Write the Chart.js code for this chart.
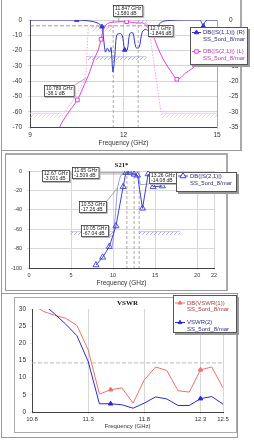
<!DOCTYPE html>
<html><head><meta charset="utf-8">
<script src="https://cdn.jsdelivr.net/npm/chart.js@4/dist/chart.umd.min.js"></script>
<style>
html,body{margin:0;padding:0;background:#fff;width:254px;height:442px;overflow:hidden;position:relative}
.fr{position:absolute;box-sizing:border-box}
canvas{position:absolute;left:0}
</style></head><body>
<div class="fr" style="left:1px;top:-2px;width:241px;height:153px;border:1px solid #999;border-right:2px solid #aaa"></div>
<div class="fr" style="left:1px;top:150px;width:1px;height:143px;border-left:1px solid #999"></div>
<div class="fr" style="left:5px;top:153px;width:223px;height:138px;border:1px solid #999;border-top:2px solid #aaa;border-right:2px solid #aaa"></div>
<div class="fr" style="left:1px;top:293px;width:237px;height:145px;border:1px solid #999"></div>
<div class="fr" style="left:14px;top:297px;width:223px;height:136px;border:1px solid #aaa"></div>
<canvas id="c1" width="254" height="150" style="top:0"></canvas>
<canvas id="c2" width="254" height="137" style="top:153px"></canvas>
<canvas id="c3" width="254" height="140" style="top:293px"></canvas>
<script>
// ---------- Panel 1 data ----------
const p1XTicks = [9, 12, 15];
const s11Freq = [9.0, 9.5, 10.0, 10.5, 10.9, 11.15, 11.31, 11.36, 11.42, 11.48, 11.55, 11.6, 11.66, 11.72, 11.78, 11.88, 11.96, 12.04, 12.12, 12.2, 12.3, 12.4, 12.5, 12.6, 12.72, 12.82, 12.9, 13.05, 13.2, 13.4, 14.0, 14.45, 14.52, 14.56, 14.62, 14.7, 15.0];
const s11Db   = [0, 0, 0, 0, -0.3, -0.9, -2.2, -6, -10.5, -9.2, -10.5, -9, -17, -12, -5, -4.4, -5, -9.8, -9.8, -4.5, -4.2, -9, -9, -4, -3, -4, -5, -3, -0.8, -0.2, 0, 0, -1.2, -2, -0.5, 0, 0];
const s11MarkFreq = [10.5, 11.31, 12.04, 12.9, 14.56];
const s21Freq = [9.85, 10.0, 10.25, 10.52, 10.75, 10.92, 11.05, 11.19, 11.28, 11.35, 11.46, 11.6, 11.8, 12.1, 12.3, 12.45, 12.63, 12.8, 12.96, 13.12, 13.28, 13.45, 13.6, 13.71, 13.85, 13.97, 14.19, 14.4, 14.7, 15.0];
const s21Db   = [-75, -68, -60, -52.3, -42, -33.8, -26, -19.6, -12.6, -6.5, -2.6, -1.6, -1.2, -1.1, -1.6, -2, -2, -5.5, -10.9, -19, -26, -31.5, -36, -38.8, -37.5, -35, -32, -28, -23.5, -20];
const s21MarkFreq = [10.52, 11.28, 12.1, 13.71];
const s21SpecLoFreq = [10.02, 10.4, 10.789, 10.83, 10.87];
const s21SpecLoDb   = [-63, -52, -38.1, -20, -4.5];
const s21SpecHiFreq = [12.8, 13.22];
const s21SpecHiDb   = [-3, -63];
const s21StopFreq = [[9, 10.02], [13.22, 15]];
const s21StopDb = [-61, -64];
const s21PassFreq = [[10.98, 11.67], [12.37, 12.75]];
const s21PassDb = [[-4.4, -7.6], [0, -2.6]];
const s11MaskFreq = [10.82, 12.74];
const s11MaskDb = [-12, -13.1];
const p1RefFreq = [9, 12.9];
const p1RefDb = -3.8;
const p1VFreq = [11.67, 12.47];
const p1MarkerFreq = [11.847, 12.7, 10.789];
const p1MarkerDb = [-1.58, -1.846, -38.1];
const p1MarkerText = [['11.847 GHz', '-1.580 dB'], ['12.7 GHz', '-1.846 dB'], ['10.789 GHz', '-38.1 dB']];

// ---------- Panel 2 data ----------
const p2XTicks = [0, 5, 10, 15, 20, 22];
const p2Freq = [7.97, 8.76, 9.55, 10.34, 11.2, 11.52, 12.0, 12.5, 12.9, 13.5, 14.17, 14.76, 15.86];
const p2Db   = [-96.9, -89, -78, -56.7, -16.2, -1.7, -1.7, -3.4, -4.4, -38.5, -3.1, -16.2, -15.5];
const p2bFreq = [9.9, 10.05, 10.3, 10.53, 10.9, 11.3, 11.65, 12.2, 12.67, 13.0, 13.26];
const p2bDb   = [-78, -67.04, -42, -17.26, -5, -2, -1.509, -2.2, -3.001, -6, -14.08];
const p2StopFreq = [[4.9, 10.14], [13.1, 18.0]];
const p2StopDb = [-62.5, -66];
const p2VFreq = [11.64, 12.5, 13.1];
const p2MarkerFreq = [12.67, 11.65, 13.26, 10.53, 10.05];
const p2MarkerDb = [-3.001, -1.509, -14.08, -17.26, -67.04];
const p2MarkerText = [['12.67 GHz', '-3.001 dB'], ['11.65 GHz', '-1.509 dB'], ['13.26 GHz', '-14.08 dB'], ['10.53 GHz', '-17.26 dB'], ['10.05 GHz', '-67.04 dB']];

// ---------- Panel 3 data ----------
const p3XTicks = [10.8, 11.3, 11.8, 12.3, 12.5];
const vswrFreq = [10.8, 10.9, 11.0, 11.1, 11.2, 11.3, 11.4, 11.5, 11.6, 11.7, 11.8, 11.9, 12.0, 12.1, 12.2, 12.3, 12.4, 12.5];
const vswr1 = [31.5, 29.3, 28.2, 27.3, 25.2, 18.1, 5.2, 6.5, 7.0, 2.6, 9.4, 13.1, 12.1, 6.2, 5.8, 12.3, 13.1, 7.0];
const vswr2 = [35, 31.5, 28.6, 25.6, 22.2, 14.7, 2.4, 2.4, 2.1, 1.1, 2.6, 4.4, 3.8, 1.9, 1.9, 3.9, 4.5, 2.3];
const vswrMarkFreq = [11.5, 12.3];
const vswrRef = 14.3;

// ---------- helpers ----------
Chart.defaults.font.family = '"Liberation Sans", Arial, sans-serif';
const pts = (xs, ys) => xs.map((x, i) => ({x, y: ys[i]}));
function hatch(color) {
  const c = document.createElement('canvas'); c.width = 4; c.height = 4;
  const g = c.getContext('2d'); g.strokeStyle = color; g.lineWidth = 0.7;
  g.beginPath(); g.moveTo(0, 4); g.lineTo(4, 0); g.moveTo(-1, 1); g.lineTo(1, -1); g.moveTo(3, 5); g.lineTo(5, 3); g.stroke();
  return g.createPattern(c, 'repeat');
}
function band(f, top, bottom, color, axis) {
  return {data: [{x: f[0], y: top}, {x: f[1], y: top}], yAxisID: axis, borderColor: color, borderWidth: 0.5,
    pointRadius: 0, fill: {value: bottom}, backgroundColor: hatch(color), tension: 0, order: 10};
}
function vline(f, a, b, axis) {
  return {data: [{x: f, y: a}, {x: f, y: b}], yAxisID: axis, borderColor: '#888', borderWidth: 0.7, borderDash: [3, 2], pointRadius: 0, fill: false, order: 9};
}
const markAt = list => ctx => (ctx.raw && list.some(f => Math.abs(f - ctx.raw.x) < 1e-6)) ? 2.6 : 0;
const fixedTicks = list => axis => { axis.ticks = list.map(v => ({value: v})); };

function drawMarkers(chart, m) {
  const ctx = chart.ctx, xs = chart.scales.x, ys = chart.scales[m.axis];
  ctx.font = '5px "Liberation Sans", Arial';
  m.freq.forEach((f, i) => {
    const px = xs.getPixelForValue(f), py = ys.getPixelForValue(m.db[i]);
    const lines = m.text[i], b = m.box[i];
    const w = Math.max(...lines.map(t => ctx.measureText(t).width)) + 4, h = lines.length * 5 + 2;
    const bx = Math.round(b.x - w / 2), by = Math.round(b.y - h / 2);
    const ex = Math.max(bx, Math.min(px, bx + w)), ey = Math.max(by, Math.min(py, by + h));
    ctx.strokeStyle = '#777'; ctx.lineWidth = 0.6; ctx.setLineDash([]);
    ctx.beginPath(); ctx.moveTo(ex, ey); ctx.lineTo(px, py); ctx.stroke();
    ctx.fillStyle = '#bbb'; ctx.fillRect(bx + 1, by + 1, w, h);
    ctx.fillStyle = '#fff'; ctx.fillRect(bx, by, w, h);
    ctx.strokeStyle = '#333'; ctx.lineWidth = 0.8; ctx.strokeRect(bx + 0.5, by + 0.5, w - 1, h - 1);
    ctx.fillStyle = '#222'; ctx.textAlign = 'left'; ctx.textBaseline = 'middle';
    lines.forEach((t, j) => ctx.fillText(t, bx + 2, by + 3.5 + j * 5));
  });
}
function drawLegend(chart, L) {
  const ctx = chart.ctx;
  ctx.fillStyle = '#999'; ctx.fillRect(L.x + 2, L.y + 2, L.w, L.h);
  ctx.fillStyle = '#fff'; ctx.fillRect(L.x, L.y, L.w, L.h);
  ctx.strokeStyle = '#555'; ctx.lineWidth = 1; ctx.setLineDash([]);
  ctx.strokeRect(L.x + 0.5, L.y + 0.5, L.w - 1, L.h - 1);
  L.items.forEach(it => {
    const ds = chart.data.datasets[it.ds];
    ctx.strokeStyle = ds.borderColor; ctx.lineWidth = 1;
    ctx.beginPath(); ctx.moveTo(L.sx0, it.y); ctx.lineTo(L.sx1, it.y); ctx.stroke();
    ctx.fillStyle = it.hollow ? '#fff' : ds.borderColor;
    Chart.helpers.drawPoint(ctx, {pointStyle: ds.pointStyle, radius: it.r, rotation: 0, borderWidth: 1}, (L.sx0 + L.sx1) / 2, it.y);
    ctx.fillStyle = it.color; ctx.font = L.font; ctx.textAlign = 'left'; ctx.textBaseline = 'middle';
    it.text.forEach((t, j) => ctx.fillText(t, L.tx, it.y + j * L.lh));
  });
}
const overlay = {
  id: 'overlay',
  afterDraw(chart, args, o) {
    const ctx = chart.ctx; ctx.save();
    if (o.title) {
      const ca = chart.chartArea;
      ctx.font = o.title.font; ctx.fillStyle = '#111'; ctx.textAlign = 'center'; ctx.textBaseline = 'middle';
      ctx.fillText(o.title.text, (ca.left + ca.right) / 2, o.title.y);
    }
    (o.markers || []).forEach(m => drawMarkers(chart, m));
    if (o.legend) drawLegend(chart, o.legend);
    ctx.restore();
  }
};
const tickFont = s => ({size: s});

// ---------- Chart 1 ----------
const C_S11 = '#3535c8', C_S21 = '#e040e0', C_S21S = '#f0a0f0';
new Chart(document.getElementById('c1'), {
  type: 'line',
  plugins: [overlay],
  data: {datasets: [
    {data: pts(s11Freq, s11Db), yAxisID: 'yR', borderColor: C_S11, backgroundColor: C_S11, borderWidth: 1, tension: 0.3,
      pointStyle: 'triangle', pointRadius: markAt(s11MarkFreq), order: 1},
    {data: pts(s21Freq, s21Db), yAxisID: 'yL', borderColor: C_S21, backgroundColor: '#fff', borderWidth: 1, tension: 0.3,
      pointStyle: 'rect', pointRadius: markAt(s21MarkFreq), pointBorderWidth: 1, order: 2},
    {data: pts(s21SpecLoFreq, s21SpecLoDb), yAxisID: 'yL', borderColor: C_S21S, borderWidth: 1, borderDash: [1.5, 1.5], pointRadius: 0, order: 5},
    {data: pts(s21SpecHiFreq, s21SpecHiDb), yAxisID: 'yL', borderColor: C_S21S, borderWidth: 1, borderDash: [1.5, 1.5], pointRadius: 0, order: 5},
    band(s21StopFreq[0], s21StopDb[0], s21StopDb[1], C_S21S, 'yL'),
    band(s21StopFreq[1], s21StopDb[0], s21StopDb[1], C_S21S, 'yL'),
    band(s21PassFreq[0], s21PassDb[0][0], s21PassDb[0][1], C_S21S, 'yL'),
    band(s21PassFreq[1], s21PassDb[1][0], s21PassDb[1][1], C_S21S, 'yL'),
    band(s11MaskFreq, s11MaskDb[0], s11MaskDb[1], '#9090e0', 'yR'),
    {data: [{x: p1RefFreq[0], y: p1RefDb}, {x: p1RefFreq[1], y: p1RefDb}], yAxisID: 'yL', borderColor: '#888', borderWidth: 0.8, borderDash: [4, 2], pointRadius: 0, order: 9},
    vline(p1VFreq[0], 0, -70, 'yL'),
    vline(p1VFreq[1], 0, -70, 'yL')
  ]},
  options: {
    responsive: false, animation: false, devicePixelRatio: 1,
    layout: {padding: {top: 20, left: 0, right: 0, bottom: 0}},
    plugins: {legend: {display: false}, tooltip: {enabled: false},
      overlay: {
        markers: [{axis: 'yL', freq: p1MarkerFreq, db: p1MarkerDb, text: p1MarkerText, box: [{x: 128, y: 11}, {x: 161, y: 31}, {x: 59.5, y: 91}]}],
        legend: {x: 190, y: 27, w: 58, h: 38, sx0: 192, sx1: 201, tx: 203, lh: 7, font: '6px "Liberation Sans", Arial',
          items: [{ds: 0, y: 32.5, r: 2.5, color: '#30307a', text: ['DB(|S(1,1)|) (R)', 'SS_5ord_8/mar']},
                  {ds: 1, y: 51.5, r: 2.5, hollow: true, color: '#b040b0', text: ['DB(|S(2,1)|) (L)', 'SS_5ord_8/mar']}]}
      }},
    scales: {
      x: {type: 'linear', min: 9, max: 15, afterBuildTicks: fixedTicks(p1XTicks), afterFit: s => { s.height = 23; },
        grid: {color: '#d4d4d4', tickLength: 2}, border: {color: '#444'},
        ticks: {font: tickFont(6.5), color: '#333', padding: 2},
        title: {display: true, text: 'Frequency (GHz)', font: tickFont(6.5), color: '#333', padding: {top: 0, bottom: 3}}},
      yL: {position: 'left', min: -70, max: 0, afterFit: s => { s.width = 30; },
        grid: {color: '#d4d4d4', tickLength: 2}, border: {color: '#444'},
        ticks: {stepSize: 10, font: tickFont(6.5), color: '#333', padding: 6}},
      yR: {position: 'right', min: -35, max: 0, afterFit: s => { s.width = 37; },
        grid: {display: false}, border: {color: '#aaa'},
        ticks: {stepSize: 5, font: tickFont(6.5), color: '#333', padding: 4}}
    }
  }
});

// ---------- Chart 2 ----------
const C_P2 = '#4040d0';
new Chart(document.getElementById('c2'), {
  type: 'line',
  plugins: [overlay],
  data: {datasets: [
    {data: pts(p2Freq, p2Db), yAxisID: 'y', borderColor: C_P2, backgroundColor: 'rgba(255,255,255,0)', borderWidth: 1, tension: 0,
      pointStyle: 'triangle', pointRadius: 3.5, pointBorderWidth: 0.9, order: 1},
    {data: pts(p2bFreq, p2bDb), yAxisID: 'y', borderColor: '#7070e0', borderWidth: 0.7, tension: 0.2, pointRadius: 0, order: 2},
    band(p2StopFreq[0], p2StopDb[0], p2StopDb[1], '#9090e0', 'y'),
    band(p2StopFreq[1], p2StopDb[0], p2StopDb[1], '#9090e0', 'y'),
    vline(p2VFreq[0], 0, -100, 'y'),
    vline(p2VFreq[1], 0, -100, 'y'),
    vline(p2VFreq[2], 0, -100, 'y')
  ]},
  options: {
    responsive: false, animation: false, devicePixelRatio: 1,
    layout: {padding: {top: 18, left: 0, right: 40, bottom: 0}},
    plugins: {legend: {display: false}, tooltip: {enabled: false},
      overlay: {
        title: {text: 'S21*', font: 'bold 6.5px "Liberation Serif", serif', y: 12},
        markers: [{axis: 'y', freq: p2MarkerFreq, db: p2MarkerDb, text: p2MarkerText,
          box: [{x: 56, y: 22.5}, {x: 86, y: 20}, {x: 163, y: 25}, {x: 93, y: 54}, {x: 94.5, y: 77.7}]}],
        legend: {x: 176, y: 19, w: 61, h: 20, sx0: 178, sx1: 188, tx: 190, lh: 7.5, font: '6px "Liberation Sans", Arial',
          items: [{ds: 0, y: 23, r: 3.5, hollow: true, color: '#30307a', text: ['DB(|S(2,1)|)', 'SS_5ord_8/mar']}]}
      }},
    scales: {
      x: {type: 'linear', min: 0, max: 22, afterBuildTicks: fixedTicks(p2XTicks), afterFit: s => { s.height = 22; },
        grid: {color: '#d8d8d8', tickLength: 2}, border: {color: '#444'},
        ticks: {font: tickFont(5.5), color: '#333', padding: 2},
        title: {display: true, text: 'Frequency (GHz)', font: tickFont(6.5), color: '#333', padding: {top: 0, bottom: 3}}},
      y: {position: 'left', min: -100, max: 0, afterFit: s => { s.width = 29; },
        grid: {color: '#d8d8d8', tickLength: 2}, border: {color: '#444'},
        ticks: {stepSize: 20, font: tickFont(5.5), color: '#333', padding: 5}}
    }
  }
});

// ---------- Chart 3 ----------
const C_V1 = '#f07070', C_V2 = '#2a2ad0';
new Chart(document.getElementById('c3'), {
  type: 'line',
  plugins: [overlay],
  data: {datasets: [
    {data: pts(vswrFreq, vswr1), borderColor: C_V1, backgroundColor: C_V1, borderWidth: 1, tension: 0,
      pointStyle: 'triangle', pointRadius: markAt(vswrMarkFreq), order: 2},
    {data: pts(vswrFreq, vswr2), borderColor: C_V2, backgroundColor: C_V2, borderWidth: 1, tension: 0,
      pointStyle: 'triangle', pointRadius: markAt(vswrMarkFreq), order: 1},
    {data: [{x: vswrFreq[0], y: vswrRef}, {x: vswrFreq[vswrFreq.length - 1], y: vswrRef}], borderColor: '#aaa', borderWidth: 0.8, borderDash: [4, 2], pointRadius: 0, order: 9}
  ]},
  options: {
    responsive: false, animation: false, devicePixelRatio: 1,
    layout: {padding: {top: 16, left: 0, right: 31, bottom: 0}},
    plugins: {legend: {display: false}, tooltip: {enabled: false},
      overlay: {
        title: {text: 'VSWR', font: 'bold 7px "Liberation Serif", serif', y: 10},
        legend: {x: 173, y: 2, w: 64, h: 38, sx0: 175, sx1: 185, tx: 187, lh: 6.5, font: '6px "Liberation Sans", Arial',
          items: [{ds: 0, y: 10, r: 2.2, color: '#a04040', text: ['DB(VSWR(1))', 'SS_5ord_8/mar']},
                  {ds: 1, y: 29.5, r: 2.2, color: '#303080', text: ['VSWR(2)', 'SS_5ord_8/mar']}]}
      }},
    scales: {
      x: {type: 'linear', min: 10.8, max: 12.5, afterBuildTicks: fixedTicks(p3XTicks), afterFit: s => { s.height = 21; },
        grid: {color: '#d8d8d8', tickLength: 2}, border: {color: '#444'},
        ticks: {font: tickFont(6), color: '#333', padding: 2, callback: v => v.toFixed(1)},
        title: {display: true, text: 'Frequency (GHz)', font: tickFont(6), color: '#333', padding: {top: 0, bottom: 3}}},
      y: {position: 'left', min: 0, max: 30, afterFit: s => { s.width = 32; },
        grid: {drawOnChartArea: false, tickLength: 2}, border: {color: '#444'},
        ticks: {stepSize: 5, font: tickFont(6.5), color: '#333', padding: 4}}
    }
  }
});
</script>
</body></html>
